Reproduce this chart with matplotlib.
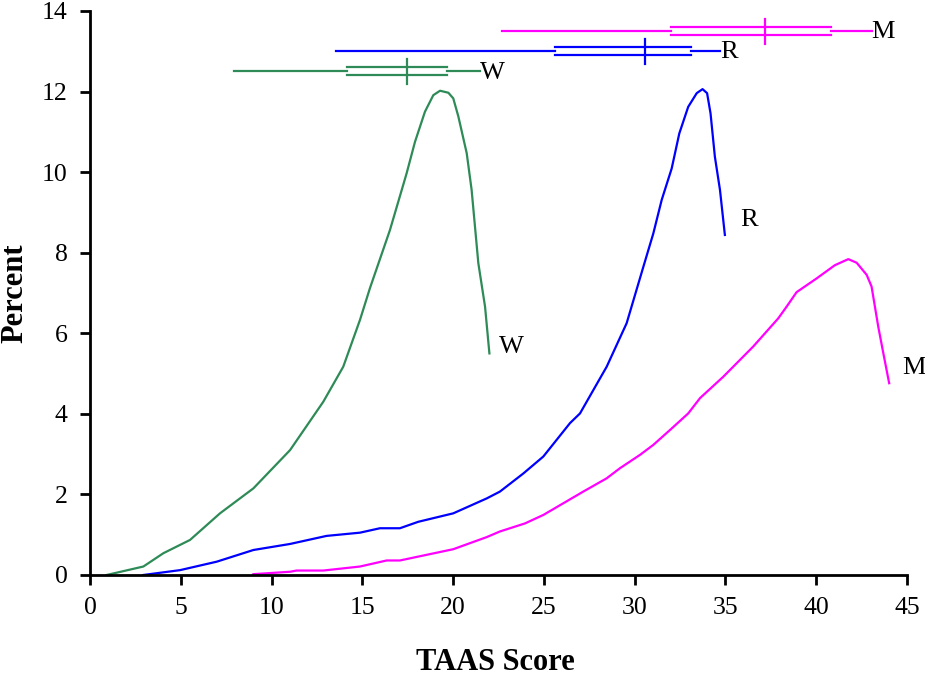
import matplotlib.pyplot as plt

plt.rcParams['font.family'] = ['Liberation Serif', 'DejaVu Serif']

# W curve (green)
w_x = [0.92, 2.94, 4.04, 5.51, 7.16, 9.0, 11.02, 12.85, 13.95, 14.87, 15.42, 16.52,
       17.44, 17.9, 18.45, 18.91, 19.28, 19.74, 20.01, 20.29, 20.75, 21.02, 21.39, 21.76, 22.0]
w_y = [0.0, 0.21, 0.54, 0.87, 1.53, 2.15, 3.10, 4.30, 5.17, 6.33, 7.12, 8.56,
       9.97, 10.75, 11.5, 11.91, 12.02, 11.97, 11.83, 11.38, 10.47, 9.56, 7.74, 6.66, 5.5]

# R curve (blue)
r_x = [2.94, 4.96, 6.98, 9.0, 11.02, 13.03, 14.87, 15.97, 17.07, 18.08, 20.01, 21.85,
       22.58, 23.87, 24.97, 26.44, 26.99, 28.46, 29.56, 30.48, 31.03, 31.49, 32.04,
       32.46, 32.95, 33.42, 33.74, 33.99, 34.18, 34.42, 34.7, 34.97]
r_y = [0.0, 0.12, 0.33, 0.62, 0.77, 0.97, 1.05, 1.16, 1.16, 1.32, 1.53, 1.90,
       2.07, 2.52, 2.94, 3.77, 4.01, 5.17, 6.25, 7.65, 8.48, 9.31, 10.09,
       10.96, 11.62, 11.96, 12.06, 11.96, 11.46, 10.38, 9.56, 8.44]

# M curve (magenta)
m_x = [9.0, 11.02, 11.38, 12.85, 14.87, 16.34, 17.07, 20.01, 21.85, 22.58, 23.96, 24.97,
       27.17, 28.46, 29.19, 30.29, 31.03, 31.95, 32.95, 33.6, 34.88, 35.43, 36.53, 37.91,
       38.37, 38.92, 40.02, 41.03, 41.77, 42.23, 42.78, 43.05, 43.42, 43.7, 44.02]
m_y = [0.02, 0.08, 0.11, 0.11, 0.21, 0.36, 0.36, 0.64, 0.94, 1.08, 1.28, 1.49,
       2.07, 2.40, 2.65, 2.98, 3.23, 3.60, 4.01, 4.39, 4.92, 5.17, 5.67, 6.37,
       6.66, 7.02, 7.36, 7.69, 7.84, 7.75, 7.45, 7.16, 6.16, 5.50, 4.76]

# box summaries: min, q1, median, q3, max, row height
labels = ['W', 'R', 'M']
colors = ['#2e8b57', '#0000ff', '#ff00ff']
box_min = [7.94, 13.55, 22.71]
box_q1 = [14.14, 25.61, 31.98]
box_med = [17.44, 30.57, 37.18]
box_q3 = [19.68, 33.1, 40.81]
box_max = [21.48, 34.7, 43.05]
box_row = [12.5, 13.0, 13.5]

fig = plt.figure(figsize=(9.25, 6.77), dpi=100)
ax = fig.add_axes([0.0973, 0.1507, 0.8832, 0.8331])

ax.plot(w_x, w_y, color=colors[0], lw=1.6)
ax.plot(r_x, r_y, color=colors[1], lw=1.6)
ax.plot(m_x, m_y, color=colors[2], lw=1.6)

ax.text(22.55, 5.66, 'W', fontsize=19, va='center')
ax.text(35.8, 8.8, 'R', fontsize=19, va='center')
ax.text(44.75, 5.14, 'M', fontsize=19, va='center')

for i in range(3):
    c = colors[i]
    yy = box_row[i]
    ax.plot([box_min[i], box_q1[i]], [yy, yy], color=c, lw=1.6)
    ax.plot([box_q3[i], box_max[i]], [yy, yy], color=c, lw=1.6)
    ax.plot([box_q1[i], box_q3[i]], [yy + 0.1, yy + 0.1], color=c, lw=1.6)
    ax.plot([box_q1[i], box_q3[i]], [yy - 0.1, yy - 0.1], color=c, lw=1.6)
    ax.plot([box_med[i], box_med[i]], [yy - 0.31, yy + 0.31], color=c, lw=1.6)
    ax.text(box_max[i], yy - 0.03, labels[i], fontsize=19, va='center')

ax.set_xlim(0, 45)
ax.set_ylim(0, 14)
ax.set_xticks(range(0, 46, 5))
ax.set_yticks(range(0, 15, 2))
ax.spines['top'].set_visible(False)
ax.spines['right'].set_visible(False)
ax.spines['left'].set_linewidth(2)
ax.spines['bottom'].set_linewidth(2)
ax.tick_params(width=2, length=7, labelsize=18.5, pad=9)

fig.text(0.535, 0.0207, 'TAAS Score', fontsize=22, fontweight='bold', ha='center', va='center')
fig.text(0.0162, 0.567, 'Percent', fontsize=22, fontweight='bold', ha='center', va='center',
         rotation=90)

fig.savefig('out.png', dpi=100)
